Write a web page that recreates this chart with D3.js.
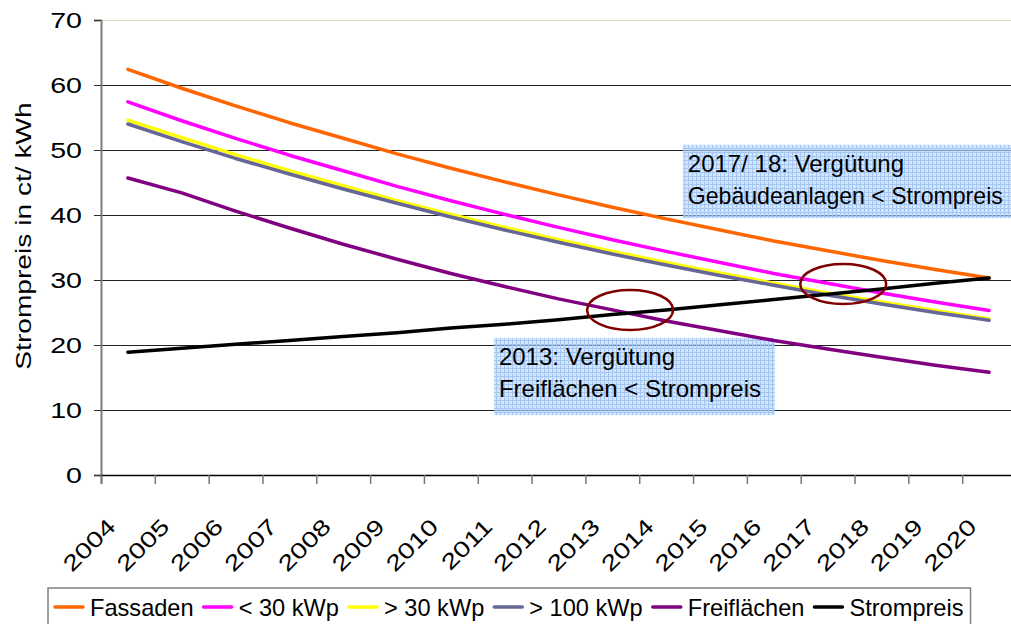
<!DOCTYPE html>
<html>
<head>
<meta charset="utf-8">
<script src="https://cdn.jsdelivr.net/npm/d3@7"></script>
<style>
  body { margin: 0; background: #fff; }
  svg { display: block; font-family: "Liberation Sans", Arial, sans-serif; }
</style>
</head>
<body>
<svg id="chart" width="1011" height="624"></svg>
<script>
const years = ['2004', '2005', '2006', '2007', '2008', '2009', '2010', '2011', '2012',
  '2013', '2014', '2015', '2016', '2017', '2018', '2019', '2020'];
const yTicks = [0, 10, 20, 30, 40, 50, 60, 70];

const fassaden = [62.4, 59.5, 56.8, 54.2, 51.8, 49.4, 47.2, 45.1, 43.1, 41.2, 39.4, 37.7, 36.0, 34.5, 33.0, 31.6, 30.3];
const unter30 = [57.4, 54.5, 51.8, 49.2, 46.8, 44.4, 42.2, 40.1, 38.1, 36.2, 34.4, 32.7, 31.0, 29.5, 28.0, 26.6, 25.3];
const ueber30 = [54.6, 51.9, 49.3, 46.8, 44.5, 42.2, 40.1, 38.1, 36.2, 34.4, 32.7, 31.1, 29.5, 28.0, 26.6, 25.3, 24.0];
const ueber100 = [54.0, 51.3, 48.7, 46.3, 44.0, 41.8, 39.7, 37.7, 35.8, 34.0, 32.3, 30.7, 29.2, 27.7, 26.3, 25.0, 23.8];
const freiflaechen = [45.7, 43.4, 40.6, 38.0, 35.5, 33.2, 31.0, 29.0, 27.1, 25.4, 23.7, 22.2, 20.7, 19.4, 18.1, 16.9, 15.8];
const strompreis = [18.9, 19.5, 20.1, 20.7, 21.3, 21.9, 22.6, 23.2, 23.9, 24.7, 25.4, 26.2, 27.0, 27.8, 28.6, 29.5, 30.3];

const seriesNames = ['Fassaden', '< 30 kWp', '> 30 kWp', '> 100 kWp', 'Freiflächen', 'Strompreis'];
const seriesValues = [fassaden, unter30, ueber30, ueber100, freiflaechen, strompreis];
const seriesColors = ['#ff6600', '#ff00ff', '#ffff00', '#666699', '#800080', '#000000'];

// annotations in data units (category index, value)
const noteLines = [['2013: Vergütung', 'Freiflächen < Strompreis'],
  ['2017/ 18: Vergütung', 'Gebäudeanlagen < Strompreis']];
const noteBoxes = [[6.8, 12.02, 21.1, 9.2], [10.31, 17.5, 50.8, 39.5]];
const circleCenters = [[9.33, 25.4], [13.29, 29.4]];

const svg = d3.select('#chart');
const W = 1011;
const M = { left: 101, right: 1016, top: 20, bottom: 475 };

const x = d3.scaleBand().domain(years).range([M.left, M.right]);
const xIdx = d3.scaleLinear().domain([-0.5, years.length - 0.5]).range([M.left, M.right]);
const y = d3.scaleLinear().domain([0, 70]).range([M.bottom, M.top]);

// pattern for the note boxes
const defs = svg.append('defs');
const pat = defs.append('pattern')
  .attr('id', 'grid')
  .attr('width', 4).attr('height', 4)
  .attr('patternUnits', 'userSpaceOnUse');
pat.append('rect').attr('width', 4).attr('height', 4).attr('fill', '#b3d3ff').attr('opacity', 0.6);
pat.append('path').attr('d', 'M0,0.5H4M0.5,0V4').attr('stroke', '#a6c6f2').attr('stroke-width', 1);

// gridlines
svg.append('g')
  .selectAll('line')
  .data(yTicks.filter(d => d > 0))
  .enter().append('line')
  .attr('x1', M.left).attr('x2', W)
  .attr('y1', d => Math.round(y(d)) + 0.5).attr('y2', d => Math.round(y(d)) + 0.5)
  .attr('stroke', d => d === 70 ? '#d8d8c0' : '#222')
  .attr('stroke-width', 1.2);

// y axis
const yAxis = svg.append('g')
  .attr('transform', `translate(${M.left},0)`)
  .call(d3.axisLeft(y).tickValues(yTicks).tickSize(7).tickPadding(12));
yAxis.select('.domain').attr('stroke', '#808070').attr('stroke-width', 2);
yAxis.selectAll('.tick line').attr('stroke', '#333');
yAxis.selectAll('.tick text')
  .attr('font-size', 22)
  .attr('fill', '#000')
  .attr('dy', '0.36em')
  .attr('transform', 'scale(1.3,1)')
  .attr('x', -19 / 1.3);

// x axis, ticks on category boundaries
const xAxis = svg.append('g')
  .attr('transform', `translate(0,${M.bottom})`)
  .call(d3.axisBottom(xIdx)
    .tickValues(d3.range(-0.5, years.length, 1))
    .tickSize(9)
    .tickFormat(''));
xAxis.select('.domain').attr('stroke', '#000').attr('stroke-width', 1.5);
xAxis.selectAll('.tick line').attr('stroke', '#777').attr('stroke-width', 1.5);

svg.append('g')
  .selectAll('text')
  .data(years)
  .enter().append('text')
  .attr('transform', d => `translate(${x(d) + x.bandwidth() / 2 - 11},${M.bottom + 53}) rotate(-45) scale(1.3,1)`)
  .attr('text-anchor', 'end')
  .attr('font-size', 22)
  .text(d => d);

// y title
svg.append('text')
  .attr('transform', 'translate(31,236) rotate(-90) scale(1.28,1)')
  .attr('text-anchor', 'middle')
  .attr('font-size', 22)
  .text('Strompreis in ct/ kWh');

// note boxes
const notes = svg.append('g')
  .selectAll('g')
  .data(noteBoxes)
  .enter().append('g');
notes.append('rect')
  .attr('x', d => xIdx(d[0]))
  .attr('y', d => y(d[2]))
  .attr('width', d => Math.min(xIdx(d[1]), W) - xIdx(d[0]))
  .attr('height', d => y(d[3]) - y(d[2]))
  .attr('fill', 'url(#grid)');
notes.each(function (d, i) {
  const x0 = xIdx(d[0]) + 5;
  const maxW = Math.min(xIdx(d[1]), W) - x0 - 8;
  d3.select(this).selectAll('text')
    .data(noteLines[i])
    .enter().append('text')
    .attr('x', x0)
    .attr('y', (t, j) => y(d[2]) + 27 + j * 32)
    .attr('font-size', 24)
    .text(t => t)
    .each(function () {
      // shrink a line that would run past the edge
      if (this.getComputedTextLength() > maxW) {
        d3.select(this).attr('font-size', 24 * maxW / this.getComputedTextLength());
      }
    });
});

// series lines
const line = d3.line()
  .x((d, i) => x(years[i]) + x.bandwidth() / 2)
  .y(d => y(d));
svg.append('g')
  .selectAll('path')
  .data(seriesValues)
  .enter().append('path')
  .attr('d', line)
  .attr('fill', 'none')
  .attr('stroke', (d, i) => seriesColors[i])
  .attr('stroke-width', 3.5)
  .attr('stroke-linejoin', 'round')
  .attr('stroke-linecap', 'round');

// circles marking the crossings
svg.append('g')
  .selectAll('ellipse')
  .data(circleCenters)
  .enter().append('ellipse')
  .attr('cx', d => xIdx(d[0]))
  .attr('cy', d => y(d[1]))
  .attr('rx', 43)
  .attr('ry', 20)
  .attr('fill', 'none')
  .attr('stroke', '#800000')
  .attr('stroke-width', 2.5);

// legend
const legend = svg.append('g');
const legendBox = legend.append('rect')
  .attr('y', 588)
  .attr('height', 50)
  .attr('fill', '#fff')
  .attr('stroke', '#808080')
  .attr('stroke-width', 1.5);
let lx = 55;
seriesNames.forEach((name, i) => {
  legend.append('line')
    .attr('x1', lx).attr('x2', lx + 28)
    .attr('y1', 607).attr('y2', 607)
    .attr('stroke', seriesColors[i])
    .attr('stroke-width', 3.5)
    .attr('stroke-linecap', 'round');
  const t = legend.append('text')
    .attr('x', lx + 35)
    .attr('y', 616)
    .attr('font-size', 23.6)
    .text(name);
  lx += 35 + t.node().getComputedTextLength() + 10;
});
legendBox.attr('x', 48).attr('width', lx - 48 - 3);
</script>
</body>
</html>
